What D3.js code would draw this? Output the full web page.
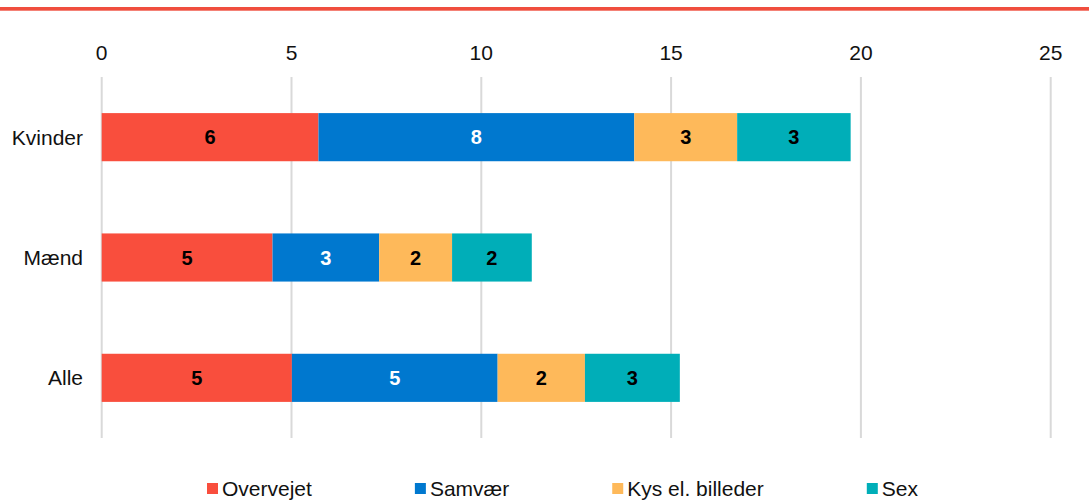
<!DOCTYPE html>
<html>
<head>
<meta charset="utf-8">
<title>Stacked bars</title>
<script src="https://d3js.org/d3.v7.min.js"></script>
<style>
  body { margin: 0; background: #fff; font-family: "Liberation Sans", Arial, sans-serif; }
</style>
</head>
<body>
<svg id="chart" width="1089" height="503"></svg>
<script>
// data
var groups = ["Kvinder", "Mænd", "Alle"];
var seriesNames = ["Overvejet", "Samvær", "Kys el. billeder", "Sex"];
var overvejet = [5.71, 4.5, 5.01];
var samvaer = [8.32, 2.81, 5.42];
var kys = [2.71, 1.92, 2.30];
var sex = [2.99, 2.10, 2.5];
var xTicks = [0, 5, 10, 15, 20, 25];

var colors = ["#f94e3d", "#0078cf", "#feb95a", "#00aeb8"];
var labelColors = ["#000", "#fff", "#000", "#000"];

var svg = d3.select("#chart");

// red rule at the top
svg.append("rect")
  .attr("x", 0).attr("y", 7)
  .attr("width", 1089).attr("height", 3.7)
  .attr("fill", "#f04e3e");

var x = d3.scaleLinear().domain([0, 25]).range([101.7, 1050.7]);
var y = d3.scaleBand().domain(groups).range([77, 438])
  .paddingInner(0.6).paddingOuter(0.3);

// grid lines
svg.append("g").selectAll("line")
  .data(xTicks).enter().append("line")
  .attr("x1", function(d) { return x(d); })
  .attr("x2", function(d) { return x(d); })
  .attr("y1", 77).attr("y2", 438)
  .attr("stroke", "#d9d9d9")
  .attr("stroke-width", 2);

// tick labels at top
svg.append("g").selectAll("text")
  .data(xTicks).enter().append("text")
  .attr("x", function(d) { return x(d); })
  .attr("y", 59.5)
  .attr("text-anchor", "middle")
  .style("font-size", "21px")
  .attr("fill", "#111")
  .text(function(d) { return d; });

// category labels
svg.append("g").selectAll("text")
  .data(groups).enter().append("text")
  .attr("x", 83)
  .attr("y", function(d) { return y(d) + y.bandwidth() / 2 + 7.5; })
  .attr("text-anchor", "end")
  .style("font-size", "21px")
  .attr("fill", "#111")
  .text(function(d) { return d; });

var rows = groups.map(function(g, i) {
  return { group: g, Overvejet: overvejet[i], "Samvær": samvaer[i], "Kys el. billeder": kys[i], Sex: sex[i] };
});
var stacked = d3.stack().keys(seriesNames)(rows);

var layers = svg.append("g").selectAll("g")
  .data(stacked).enter().append("g")
  .attr("fill", function(d, i) { return colors[i]; });

layers.selectAll("rect")
  .data(function(d) { return d; }).enter().append("rect")
  .attr("x", function(d) { return x(d[0]); })
  .attr("width", function(d) { return x(d[1]) - x(d[0]); })
  .attr("y", function(d) { return y(d.data.group); })
  .attr("height", y.bandwidth());

layers.each(function(layer, i) {
  d3.select(this).selectAll("text")
    .data(layer).enter().append("text")
    .attr("x", function(d) { return (x(d[0]) + x(d[1])) / 2; })
    .attr("y", function(d) { return y(d.data.group) + y.bandwidth() / 2 + 7; })
    .attr("text-anchor", "middle")
    .style("font-size", "20px")
    .style("font-weight", "bold")
    .attr("fill", labelColors[i])
    .text(function(d) { return Math.round(d[1] - d[0]); });
});

// legend
var legend = svg.append("g");
var lx = 207;
seriesNames.forEach(function(name, i) {
  legend.append("rect")
    .attr("x", lx).attr("y", 483)
    .attr("width", 11).attr("height", 11)
    .attr("fill", colors[i]);
  var t = legend.append("text")
    .attr("x", lx + 15).attr("y", 496)
    .style("font-size", "21px")
    .attr("fill", "#111")
    .text(name);
  lx = lx + 15 + t.node().getComputedTextLength() + 103;
});
</script>
</body>
</html>
